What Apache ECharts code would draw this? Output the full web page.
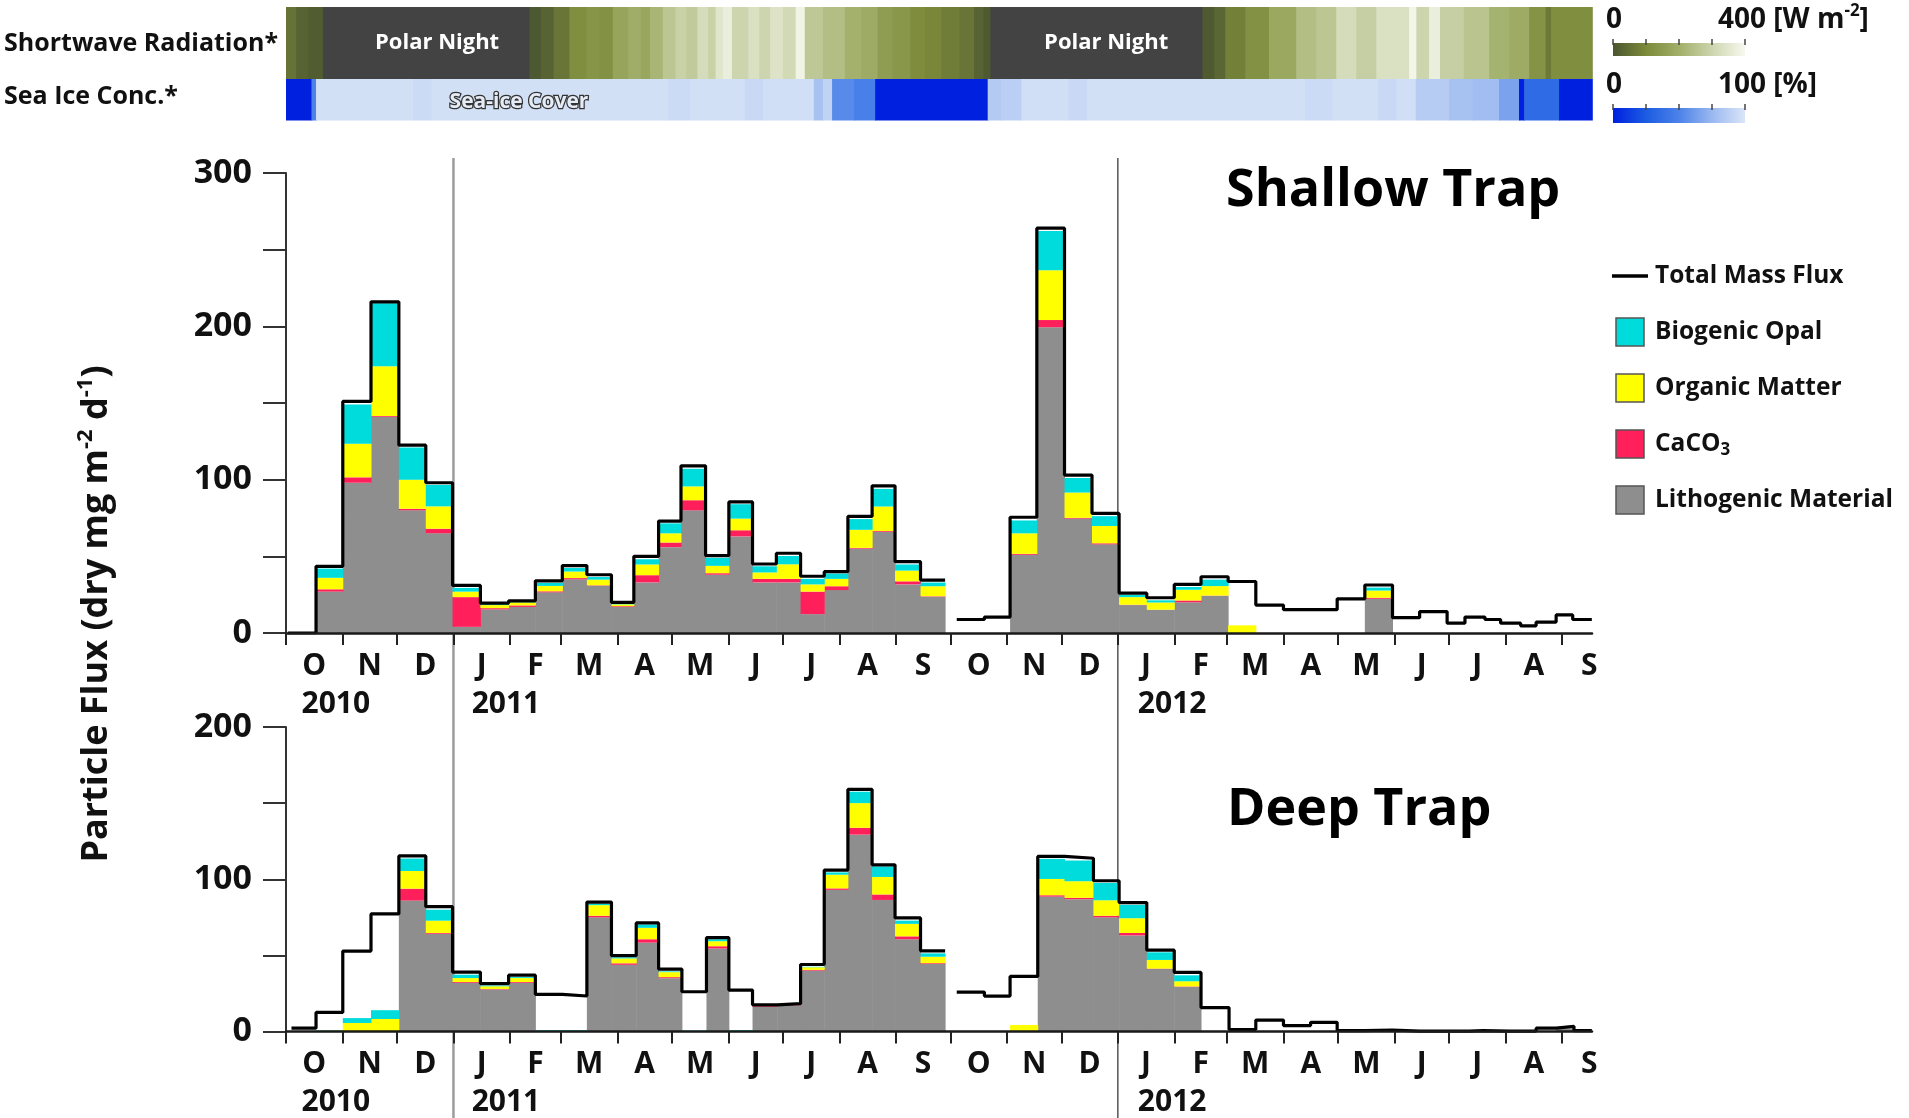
<!DOCTYPE html>
<html><head><meta charset="utf-8">
<script src="https://cdn.jsdelivr.net/npm/echarts@6/dist/echarts.min.js"></script>
<style>html,body{margin:0;padding:0;background:#fff}#c{width:1909px;height:1118px}</style>
</head><body><div id="c"></div>
<script>
// ---- time axis: days counted from 1 Oct 2010 ----
const XMAX = 717.5;
const monthStart = [0,31,61,92,123,151,182,212,243,273,304,335,365,396,426,457,488,517,548,578,609,639,670,701];
const monthLen   = [31,30,31,31,28,31,30,31,30,31,31,30,31,30,31,31,29,31,30,31,30,31,31,30];
const monthLetter = ['O','N','D','J','F','M','A','M','J','J','A','S','O','N','D','J','F','M','A','M','J','J','A','S'];
const yearLabel = ['2010','2011','2012'];
const yearLabelDay = [8.5, 102, 468];
const yearBoundary = [92, 457];

// ---- top bands (radiation value -1 = polar night) ----
const radStart = [0,5.6,12,20.3,133.8,140,147,155.7,165,172,179.5,188,195,200,207,214,220,226,232,236,240,245,254,260,266,273,280,285,295,307,316,325,333,343,351,360,370,378,383,387,503.5,510,516,527,540,555,566,577,588,599,617,621,628,634,647,661,672,683,692,695];
const radVal   = [55,25,12,-1,5,25,60,110,130,120,170,195,175,215,260,290,270,320,290,345,370,300,330,300,340,310,385,265,240,205,190,150,135,105,95,75,60,25,8,-1,8,30,80,120,180,240,260,320,285,330,390,300,370,285,255,210,190,125,70,110];
const iceStart = [0,14,16.5,70,80,210,222,252,262,290,295,300,312,323.7,385.5,392.8,404,430,440,560,575,600,610,620.7,639,652,666.4,677.4,680.2,699.4];
const iceVal   = [0,50,97,94,97,94,97,93,96,80,90,54,48,0,85,88,96,93,97,94,97,93,96,86,80,78,65,0,35,0];

// ---- Shallow trap ----
const shStart = [1,16.5,31.2,46.7,62,76.8,91.5,106.8,122.3,137,151.8,165.3,178.8,191.1,204.7,217,230.5,243.3,256.3,269.4,282.7,295.7,308.7,322,334.6,348.6,368.5,383.7,397.8,412.5,427.7,442.8,457.7,472.9,488,502.7,517.6,532.8,548,562.6,577.5,592.7,607.9,622.8,637.9,647.7,658.7,667.3,678.3,686.8,697.8,706.9];
const shEnd   = [16.5,31.2,46.7,62,76.8,91.5,106.8,122.3,137,151.8,165.3,178.8,191.1,204.7,217,230.5,243.3,256.3,269.4,282.7,295.7,308.7,322,334.6,348.6,362.1,383.7,397.8,412.5,427.7,442.8,457.7,472.9,488,502.7,517.6,532.8,548,562.6,577.5,592.7,607.9,622.8,637.9,647.7,658.7,667.3,678.3,686.8,697.8,706.9,717.4];
const shLitho   = [0,27,98,141,80,65,4,15.4,17,26.5,35,30.8,17,33,56,80,38,63,33,33,12.3,28,55,66,31.7,23.7,0,0,51,199.4,74.6,57.8,18.2,15.2,20,24.2,0,0,0,0,0,22.3,0,0,0,0,0,0,0,0,0,0];
const shCaCO3   = [0,1.5,3.5,0.5,1,3,19.4,0.8,1,0.7,0.8,0.3,0.5,4.7,3,6.6,1,4,2.3,2.3,14.7,2.5,0.5,0.5,2,0.3,0,0,0.6,4.7,0.5,0.7,0.2,0,1.2,0.2,0,0,0,0,0,0.7,0,0,0,0,0,0,0,0,0,0];
const shOrganic = [0,7.5,22,32.5,19,14.6,3.6,2,2,3.5,4.3,3.7,1.2,7,6,9,4.8,7.6,4.2,9.5,4.7,4.8,11.8,16,7,6.5,0,0,13.4,32.5,16.5,11.3,5,4.7,7,6.2,5,0,0,0,0,4.7,0,0,0,0,0,0,0,0,0,0];
const shOpal    = [0,6,25.5,41,21,14,2.4,0.6,0.5,2,2.3,1.7,0.3,3.4,6.5,11.5,5.2,9.4,4,5.4,3.6,3.5,7,11.5,4,2.4,0,0,8.4,25.6,9.5,6.4,1.5,1.4,1.8,4.2,0,0,0,0,0,1.9,0,0,0,0,0,0,0,0,0,0];
const shTotal   = [0,43.5,151,216,122.5,98,31,19.5,21,34,44,38,20,50,73,109,50.5,85.5,45,52,37,40,76,96,46.5,34.5,8.8,10.4,75.5,264,103,78,26,23,31.7,36.7,33.6,18.2,15.2,15.2,22.3,31.3,10,14,6.4,10.4,8.8,6.4,4.7,7.1,11.8,8.8];

// ---- Deep trap ----
const dpStart = [3,16.5,31.2,46.7,62,76.8,91.5,106.8,122.3,137,151.8,165.3,178.8,192.4,204.7,217.5,231,243.3,256.3,269.9,282.7,295.7,308.7,322,334.6,348.6,368.5,383.7,397.8,413,427.7,443.6,457.7,472.9,488,502.7,518.1,532.8,548,562.9,577.5,592.7,607.9,622.8,638,650.2,657.5,672,686.8,697.8,707.6];
const dpEnd   = [16.5,31.2,46.7,62,76.8,91.5,106.8,122.3,137,151.8,165.3,178.8,192.4,204.7,217.5,231,243.3,256.3,269.9,282.7,295.7,308.7,322,334.6,348.6,362.1,383.7,397.8,413,427.7,443.6,457.7,472.9,488,502.7,518.1,532.8,548,562.9,577.5,592.7,607.9,622.8,638,650.2,657.5,672,686.8,697.8,707.6,717.4];
const dpLitho   = [0,0,0,0,86,64.2,32,27.6,32,0,0,75,43.8,58.4,35,0,54.5,0,16.2,17.2,40,93,129.3,86.4,60.6,44.4,0,0,0,88.6,86.9,75,63.1,41,29.3,0,0,0,0,0,0,0,0,0,0,0,0,0,0,2,0];
const dpCaCO3   = [0,0,0,0,7.8,0.5,0.5,0.3,0.5,0,0,1,1,2.2,0.7,0,1.5,0,0.5,0.5,0.5,1,4.5,3.6,1.9,0.5,0,0,0,0.9,0.9,1,1.6,0.3,0.3,0,0,0,0,0,0,0,0,0,0,0,0,0,0,0,0];
const dpOrganic = [0,0.6,5.6,8.2,11.6,8.1,2.6,1.8,2.6,0.4,0.3,7,3.2,7.5,3.3,0,3.3,0.4,0.5,0.3,1.7,9,16.2,11.5,8.2,4.2,0,0,4.3,10.7,10.9,10.2,9.7,5.7,3.4,0,0,0,0,0,0,0,0,0,0,0,0,0,0,0,0];
const dpOpal    = [0,0.3,3.2,5.8,8.2,7.2,2.2,0.5,0.6,0.5,0.5,1,0.7,2.2,0.5,0.6,1.3,0.5,0,0,0.3,1.5,7.5,6.9,2.1,2.2,0,0,0,13.2,13.6,11.4,8.8,5,3.9,0,0,0,0,0,0,0,0,0,0,0,0,0,0,0,0];
const dpTotal   = [2.2,12.5,52.8,77.2,115.3,82,39,31.5,37,24.4,23.3,85,49.8,71.3,41,26.1,61.6,27.2,17.5,18.3,44,106,159,109.5,74.6,53,25.9,23.3,36.2,115,113.8,99,84.7,53.4,38.8,15.7,1.3,7.5,3.9,6,0.6,1,0.3,0.3,0.3,0.6,0.3,0.3,2.2,3.4,0.6];

// ---- styles ----
const FF = '"Open Sans", "Noto Sans", sans-serif';
const RAD_COLORS = ['#4b5630', '#7c8a3a', '#a1af6a', '#cdd5ae', '#f7f9ef'];
const NIGHT = '#434343';
const ICE_COLORS = ['#0020e0', '#1c5ce2', '#4c82e8', '#9ab8f0', '#dae5f7'];
const C_OPAL = '#00dcdc', C_ORG = '#ffff00', C_CAC = '#ff1f5a', C_LITH = '#8e8e8e';
const TXT = '#111';

const monthMid = monthStart.map((s, i) => s + monthLen[i] / 2);

function segData(start, val) {
  return start.map((s, i) => [s, i + 1 < start.length ? start[i + 1] : XMAX, val[i]]);
}
function stackData(start, end, comps) {
  const out = comps.map(() => []);
  start.forEach((s, i) => {
    let base = 0;
    comps.forEach((arr, k) => { const v = arr[i]; out[k].push([s, end[i], base, base + v]); base += v; });
  });
  return out;
}
function totalData(start, end, total) {
  const pts = [];
  for (let i = 0; i < start.length; i++) {
    if (i > 0 && Math.abs(start[i] - end[i - 1]) > 0.01) {
      pts.push([end[i - 1], total[i - 1]]);
      pts.push([end[i - 1], null]);
    }
    pts.push([start[i], total[i]]);
  }
  pts.push([end[end.length - 1], total[total.length - 1]]);
  return pts;
}
function bandItem(params, api) {
  const p0 = api.coord([api.value(0), 1]);
  const p1 = api.coord([api.value(1), 0]);
  const fill = api.value(2) < 0 ? NIGHT : api.visual('color');
  return { type: 'rect', shape: { x: p0[0], y: p0[1], width: p1[0] - p0[0] + 0.8, height: p1[1] - p0[1] },
    style: { fill: fill } };
}
function barItem(params, api) {
  const b = api.value(2), t = api.value(3);
  if (!(t > b)) return null;
  const p0 = api.coord([api.value(0), t]);
  const p1 = api.coord([api.value(1), b]);
  return { type: 'rect', shape: { x: p0[0], y: p0[1], width: p1[0] - p0[0] + 0.5, height: p1[1] - p0[1] },
    style: { fill: api.visual('color') } };
}

const shStack = stackData(shStart, shEnd, [shLitho, shCaCO3, shOrganic, shOpal]);
const dpStack = stackData(dpStart, dpEnd, [dpLitho, dpCaCO3, dpOrganic, dpOpal]);
const compNames = ['Lithogenic Material', 'CaCO3', 'Organic Matter', 'Biogenic Opal'];
const compColors = [C_LITH, C_CAC, C_ORG, C_OPAL];

function monthAxis(grid) {
  return {
    type: 'value', gridIndex: grid, min: 0, max: XMAX, z: 5,
    axisLine: { show: true, onZero: true, lineStyle: { color: '#1a1a1a', width: 2.5 } },
    axisTick: { show: true, customValues: monthStart, length: 12, lineStyle: { color: '#222', width: 2 } },
    axisLabel: { customValues: monthMid, formatter: v => monthLetter[monthMid.indexOf(v)] || '',
      margin: 18, fontFamily: FF, fontWeight: 'bold', fontSize: 30, lineHeight: 30, color: TXT },
    splitLine: { show: false }
  };
}
function yearAxis(grid) {
  return {
    type: 'value', gridIndex: grid, min: 0, max: XMAX, position: 'bottom',
    axisLine: { show: false }, axisTick: { show: false }, splitLine: { show: false },
    axisLabel: { customValues: yearLabelDay, formatter: v => yearLabel[yearLabelDay.indexOf(v)] || '',
      align: 'left', margin: 56, fontFamily: FF, fontWeight: 'bold', fontSize: 30, lineHeight: 30, color: TXT }
  };
}
function fluxAxis(grid, max) {
  return {
    type: 'value', gridIndex: grid, min: 0, max: max, interval: 50,
    axisLine: { show: true, lineStyle: { color: '#333', width: 2 } },
    axisTick: { show: true, length: 23, lineStyle: { color: '#333', width: 2 } },
    axisLabel: { formatter: v => (v % 100 === 0 ? String(v) : ''), margin: 34,
      fontFamily: FF, fontWeight: 'bold', fontSize: 34, color: TXT },
    splitLine: { show: false }
  };
}
const hiddenX = g => ({ type: 'value', gridIndex: g, min: 0, max: XMAX, show: false });
const hiddenY = g => ({ type: 'value', gridIndex: g, min: 0, max: 1, show: false });

const series = [
  { type: 'custom', name: 'rad', xAxisIndex: 0, yAxisIndex: 0, renderItem: bandItem, encode: { x: [0, 1] }, data: segData(radStart, radVal), silent: true },
  { type: 'custom', name: 'ice', xAxisIndex: 1, yAxisIndex: 1, renderItem: bandItem, encode: { x: [0, 1] }, data: segData(iceStart, iceVal), silent: true }
];
[[shStack, 2, 2, shStart, shEnd, shTotal], [dpStack, 4, 3, dpStart, dpEnd, dpTotal]].forEach(([stack, xi, yi, st, en, tot]) => {
  stack.forEach((d, k) => series.push({
    type: 'custom', name: compNames[k], xAxisIndex: xi, yAxisIndex: yi, renderItem: barItem,
    encode: { x: [0, 1], y: [2, 3] }, itemStyle: { color: compColors[k] }, data: d, z: 2, silent: true
  }));
  series.push({
    type: 'line', name: 'Total Mass Flux', xAxisIndex: xi, yAxisIndex: yi, step: 'end', symbol: 'none',
    connectNulls: false, itemStyle: { color: '#000' }, lineStyle: { color: '#000', width: 3.2 },
    data: totalData(st, en, tot), z: 4, silent: true
  });
});

const SQ = 'path://M0,0H10V10H0Z';
const LN = 'path://M0,0H12V1.1H0Z';
const sqStyle = { borderColor: '#555', borderWidth: 1.5 };

const option = {
  animation: false,
  backgroundColor: '#fff',
  grid: [
    { left: 286, top: 7, width: 1306, height: 72 },
    { left: 286, top: 79, width: 1306, height: 41.5 },
    { left: 286, top: 173, width: 1306, height: 460 },
    { left: 286, top: 727, width: 1306, height: 304.5 }
  ],
  xAxis: [hiddenX(0), hiddenX(1), monthAxis(2), yearAxis(2), monthAxis(3), yearAxis(3)],
  yAxis: [hiddenY(0), hiddenY(1), fluxAxis(2, 300), fluxAxis(3, 200)],
  visualMap: [
    { type: 'continuous', show: false, seriesIndex: 0, dimension: 2, min: 0, max: 400,
      inRange: { color: RAD_COLORS }, outOfRange: { color: NIGHT } },
    { type: 'continuous', show: false, seriesIndex: 1, dimension: 2, min: 0, max: 100,
      inRange: { color: ICE_COLORS }, outOfRange: { color: ICE_COLORS[0] } }
  ],
  legend: {
    orient: 'vertical', left: 1607, top: 256, itemWidth: 36, itemHeight: 28, itemGap: 26,
    selectedMode: false,
    formatter: n => (n === 'CaCO3' ? '{a|CaCO}{s|3}' : n),
    textStyle: {
      fontFamily: FF, fontWeight: 'bold', fontSize: 24.5, color: TXT, lineHeight: 30, padding: [0, 0, 0, 2],
      rich: {
        a: { fontFamily: FF, fontWeight: 'bold', fontSize: 24.5, color: TXT, lineHeight: 30 },
        s: { fontFamily: FF, fontWeight: 'bold', fontSize: 17, color: TXT, lineHeight: 17, padding: [13, 0, 0, 0], verticalAlign: 'bottom' }
      }
    },
    data: [
      { name: 'Total Mass Flux', icon: LN },
      { name: 'Biogenic Opal', icon: SQ, itemStyle: sqStyle },
      { name: 'Organic Matter', icon: SQ, itemStyle: sqStyle },
      { name: 'CaCO3', icon: SQ, itemStyle: sqStyle },
      { name: 'Lithogenic Material', icon: SQ, itemStyle: sqStyle }
    ]
  },
  series: series
};

const chart = echarts.init(document.getElementById('c'), null, { renderer: 'canvas' });
chart.setOption(option);

// ---- annotations anchored to the axes ----
const g = [];
yearBoundary.forEach((d, i) => {
  const x = chart.convertToPixel({ xAxisIndex: 2 }, d);
  g.push({ type: 'line', z: 1, shape: { x1: x, y1: 158, x2: x, y2: 1118 },
    style: { stroke: i === 0 ? '#9c9c9c' : '#555', lineWidth: i === 0 ? 2.5 : 1.5 } });
});
[83, 450.6].forEach(d => {
  const p = chart.convertToPixel({ gridIndex: 0 }, [d, 0.5]);
  g.push({ type: 'text', z: 10, x: p[0], y: p[1], style: { text: 'Polar Night', fill: '#fff',
    fontFamily: FF, fontWeight: 'bold', fontSize: 22, align: 'center', verticalAlign: 'middle' } });
});
{
  const p = chart.convertToPixel({ gridIndex: 1 }, [128, 0.45]);
  g.push({ type: 'text', z: 10, x: p[0], y: p[1], style: { text: 'Sea-ice Cover', fill: '#e6ecf6',
    stroke: '#333', lineWidth: 2.5, fontFamily: FF, fontWeight: 'bold', fontSize: 21, align: 'center', verticalAlign: 'middle' } });
}
const txt = (text, x, y, size, extra) => ({ type: 'text', z: 10, x: x, y: y,
  style: Object.assign({ text: text, fill: TXT, fontFamily: FF, fontWeight: 'bold', fontSize: size,
    align: 'left', verticalAlign: 'middle' }, extra || {}) });
g.push(txt('Shortwave Radiation*', 4, 44, 25));
g.push(txt('Sea Ice Conc.*', 4, 97, 25));
g.push(txt('Shallow Trap', 1226, 191, 52, { fill: '#000' }));
g.push(txt('Deep Trap', 1227, 810, 52, { fill: '#000' }));
g.push({ type: 'text', z: 10, x: 97, y: 614, rotation: Math.PI / 2,
  style: { text: '{a|Particle Flux (dry mg m}{s|-2}{a| d}{s|-1}{a|)}', align: 'center', verticalAlign: 'middle',
    rich: { a: { fontFamily: FF, fontWeight: 'bold', fontSize: 36, lineHeight: 44, fill: TXT, color: TXT },
            s: { fontFamily: FF, fontWeight: 'bold', fontSize: 22, lineHeight: 22, verticalAlign: 'top', fill: TXT, color: TXT } } } });

// colour bars for the two top bands
function colorbar(y, h, colors, labelY, lo, hi) {
  const stops = colors.map((c, i) => ({ offset: i / (colors.length - 1), color: c }));
  g.push({ type: 'rect', z: 10, shape: { x: 1613, y: y, width: 132, height: h },
    style: { fill: new echarts.graphic.LinearGradient(0, 0, 1, 0, stops) } });
  for (let i = 0; i < 5; i++) {
    const x = 1613 + i * 33;
    g.push({ type: 'line', z: 11, shape: { x1: x, y1: y - 4, x2: x, y2: y + 2 }, style: { stroke: '#444', lineWidth: 1.5 } });
  }
  g.push(txt(lo, 1606, labelY, 28));
  g.push({ type: 'text', z: 10, x: 1718, y: labelY, style: { text: hi, align: 'left', verticalAlign: 'middle',
    rich: { a: { fontFamily: FF, fontWeight: 'bold', fontSize: 28, lineHeight: 34, fill: TXT, color: TXT },
            s: { fontFamily: FF, fontWeight: 'bold', fontSize: 17, lineHeight: 17, verticalAlign: 'top', fill: TXT, color: TXT } } } });
}
colorbar(43, 13, RAD_COLORS, 20, '0', '{a|400 [W m}{s|-2}{a|]}');
colorbar(108, 15, ICE_COLORS, 85, '0', '{a|100 [%]}');

chart.setOption({ graphic: g });
</script></body></html>
